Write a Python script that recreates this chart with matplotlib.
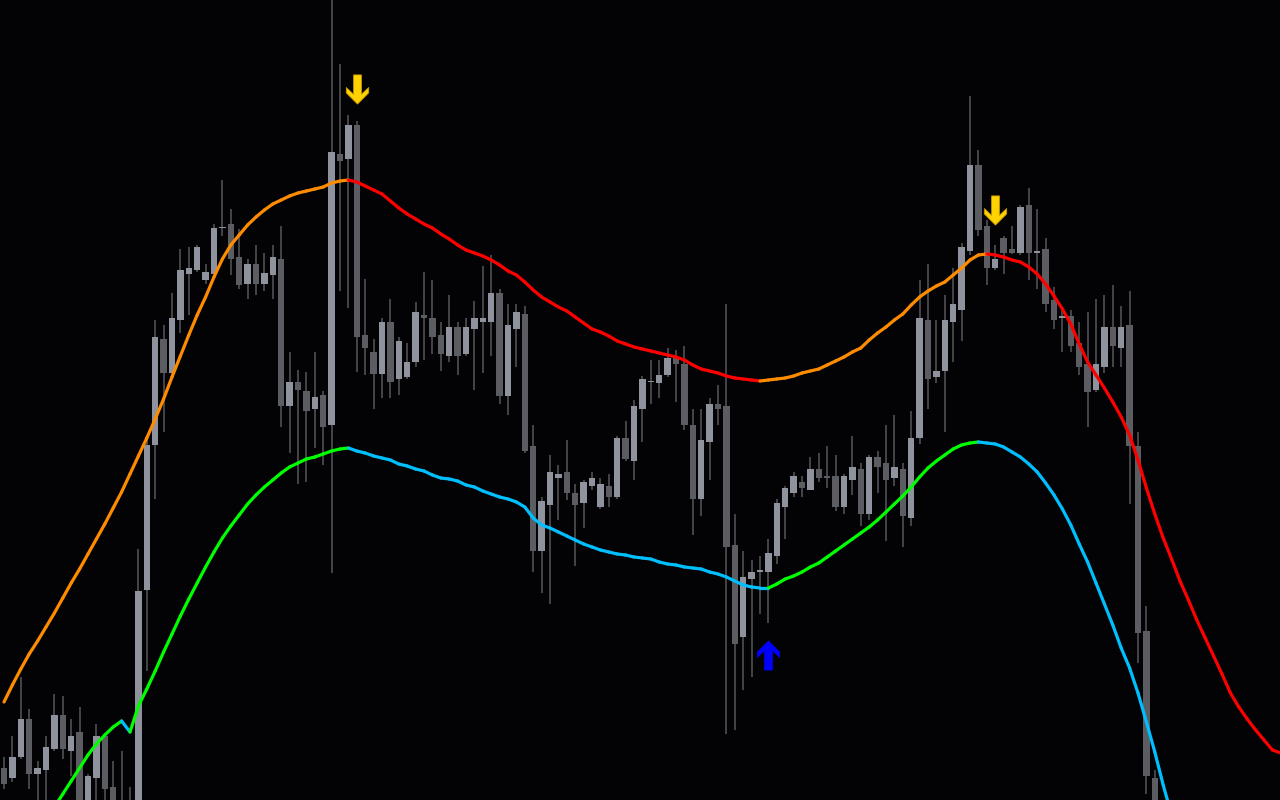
import numpy as np
import matplotlib.pyplot as plt
from matplotlib.collections import LineCollection
from matplotlib.path import Path

# OHLC candles (bar index = position from the left)
opens = [32, 22, 43, 81, 26, 30, 51, 85, 49, 68, -8, 22, 64, 13, -2, -5, -26, 210, 355, 461,
         427, 480, 526, 530, 520, 526, 572, 576, 543, 516, 536, 516, 525, 541, 394, 418, 409, 391, 405, 375,
         646, 641, 675, 465, 448, 426, 478, 421, 423, 438, 485, 482, 465, 444, 473, 446, 471, 478, 478, 507,
         404, 471, 486, 354, 249, 295, 322, 328, 307, 297, 314, 293, 314, 303, 362, 339, 391, 418, 417, 425,
         442, 436, 375, 301, 358, 396, 394, 255, 163, 221, 228, 228, 244, 293, 307, 318, 310, 331, 324, 324,
         293, 320, 331, 286, 343, 337, 322, 331, 282, 362, 480, 423, 429, 478, 490, 549, 635, 574, 532, 562,
         551, 547, 595, 547, 551, 500, 482, 484, 457, 436, 410, 433, 473, 452, 475, 354, 169, 22]
highs = [43, 64, 123, 91, 39, 64, 106, 104, 81, 93, 26, 76, 66, 39, 49, 13, 251, 364, 480, 475,
         507, 551, 553, 555, 536, 576, 620, 591, 571, 541, 555, 547, 555, 574, 448, 430, 428, 448, 409, 805,
         736, 685, 679, 521, 461, 482, 501, 463, 457, 498, 528, 520, 478, 505, 478, 482, 499, 534, 545, 511,
         496, 496, 494, 375, 303, 345, 335, 360, 316, 320, 328, 322, 326, 364, 379, 400, 424, 440, 440, 452,
         450, 454, 391, 391, 402, 415, 496, 286, 249, 240, 244, 261, 301, 314, 328, 324, 343, 347, 354, 345,
         326, 364, 337, 345, 349, 375, 385, 337, 389, 520, 536, 480, 505, 532, 557, 704, 650, 580, 555, 564,
         574, 595, 612, 591, 562, 513, 490, 490, 478, 488, 501, 505, 515, 494, 509, 368, 194, 30]
lows = [11, 18, 41, 11, -5, -5, 49, 41, 24, -12, -15, -5, -5, -12, -20, -30, -34, 129, 301, 368,
        425, 467, 485, 528, 516, 524, 564, 525, 511, 501, 505, 509, 501, 373, 347, 316, 318, 352, 335, 227,
        509, 492, 428, 425, 391, 402, 402, 405, 421, 433, 440, 446, 429, 438, 425, 444, 410, 427, 444, 396,
        385, 433, 347, 228, 207, 196, 280, 300, 234, 272, 310, 291, 293, 301, 339, 320, 358, 396, 402, 423,
        398, 370, 265, 284, 320, 375, 66, 70, 110, 123, 186, 177, 236, 261, 303, 303, 310, 318, 312, 289,
        286, 305, 274, 280, 307, 259, 314, 253, 274, 356, 391, 417, 368, 438, 459, 545, 564, 515, 530, 526,
        546, 545, 520, 511, 488, 471, 448, 448, 425, 373, 408, 427, 433, 433, 296, 137, 6, -40]
closes = [16, 43, 81, 26, 32, 53, 85, 51, 64, -5, 24, 64, 11, -5, -15, -25, 209, 355, 463, 427,
          482, 530, 532, 553, 528, 572, 573, 541, 515, 536, 516, 527, 543, 394, 418, 410, 389, 403, 373, 648,
          639, 675, 463, 452, 426, 478, 418, 459, 438, 488, 482, 463, 446, 473, 444, 473, 482, 482, 507, 404,
          475, 488, 349, 249, 299, 328, 326, 307, 295, 318, 322, 316, 303, 362, 341, 394, 421, 419, 425, 442,
          436, 375, 301, 360, 396, 391, 253, 156, 223, 228, 230, 247, 297, 312, 324, 312, 331, 322, 322, 293,
          324, 333, 286, 343, 333, 320, 333, 284, 362, 482, 421, 429, 480, 496, 553, 635, 570, 532, 541, 547,
          547, 593, 547, 549, 496, 480, 484, 454, 433, 408, 436, 473, 454, 473, 354, 167, 24, -30]

# channel bands, one value per bar (they run past the last candle)
upper_band = [98, 115, 131, 146, 159, 173, 187, 202, 217, 231, 246, 261, 276, 292, 308, 326, 344, 362, 381, 401,
              423, 444, 465, 485, 503, 523, 541, 555, 565, 575, 583, 590, 596, 600, 604, 607, 609, 611, 613, 617,
              619, 620, 618, 614, 610, 606, 599, 592, 586, 581, 576, 572, 566, 561, 555, 550, 547, 544, 540, 535,
              529, 525, 518, 510, 503, 498, 493, 489, 483, 477, 471, 468, 464, 459, 456, 453, 451, 449, 447, 445,
              443, 440, 435, 431, 429, 427, 424, 422, 421, 420, 419, 420, 421, 422, 424, 427, 429, 431, 435, 439,
              443, 448, 452, 460, 467, 473, 480, 486, 495, 503, 509, 514, 518, 525, 532, 540, 545, 546, 545, 543,
              540, 538, 533, 526, 516, 504, 491, 476, 456, 438, 425, 412, 398, 383, 365, 340, 312, 286, 262, 241,
              219, 200, 180, 162, 144, 126, 107, 93, 81, 70, 60, 50, 47]
lower_band = [-85, -72, -59, -46, -33, -20, -7, 6, 19, 32, 45, 56, 65, 73, 79, 68, 94, 111, 129, 148,
              166, 184, 201, 217, 233, 248, 262, 274, 285, 296, 305, 313, 320, 327, 333, 337, 341, 343, 346, 349,
              351, 352, 349, 347, 344, 342, 340, 336, 334, 331, 329, 325, 322, 321, 319, 315, 313, 309, 306, 303,
              301, 298, 293, 282, 275, 272, 268, 264, 260, 256, 253, 250, 248, 246, 245, 243, 242, 241, 238, 236,
              235, 233, 232, 231, 228, 226, 223, 219, 215, 213, 212, 212, 216, 221, 224, 228, 233, 237, 243, 249,
              255, 261, 267, 273, 280, 288, 296, 304, 313, 323, 332, 339, 345, 351, 355, 357, 358, 357, 356, 353,
              348, 343, 336, 328, 317, 305, 291, 275, 256, 238, 217, 196, 175, 152, 132, 107, 78, 48, 15, -15,
              -45, -72, -97, -120, -142, -162, -182, -198, -212, -224, -234, -243, -246]

# signal arrows
sell_bars = [42, 118]
sell_levels = [711, 590]
buy_bars = [91]
buy_levels = [145]

BG = '#030305'
BULL = '#8f939e'
BEAR = '#5c5d62'
WICK = '#4a4a4f'

fig = plt.figure(figsize=(12.8, 8), dpi=100, facecolor=BG)
ax = fig.add_axes([0, 0, 1, 1])
ax.set_facecolor(BG)

x = np.arange(len(opens))
o = np.array(opens, float)
c = np.array(closes, float)

ax.vlines(x, lows, highs, color=WICK, lw=1.3, zorder=1)
body = np.where(np.abs(c - o) < 1.5, 1.5, c - o)
cols = [BULL if cc >= oo else BEAR for oo, cc in zip(o, c)]
ax.bar(x, body, bottom=o, width=0.76, color=cols, linewidth=0, zorder=2)


def band(vals, up_col, down_col):
    xs = np.arange(len(vals))
    pts = np.column_stack([xs, vals])
    segs = np.stack([pts[:-1], pts[1:]], axis=1)
    colors = []
    state = up_col
    for a, b in zip(vals[:-1], vals[1:]):
        if b > a:
            state = up_col
        elif b < a:
            state = down_col
        colors.append(state)
    lc = LineCollection(segs, colors=colors, linewidths=2.3, capstyle='round', joinstyle='round', zorder=3)
    ax.add_collection(lc)


band(upper_band, '#ff8c00', '#ff0000')
band(lower_band, '#00ff00', '#00bfff')

# arrow glyph (pointing up), flipped for sell signals
up_verts = [(0, 15), (11.5, 3.5), (11.5, -2), (4, 5), (4, -15), (-4, -15), (-4, 5), (-11.5, -2), (-11.5, 3.5), (0, 15)]
up_arrow = Path(up_verts, closed=True)
down_arrow = Path([(vx, -vy) for vx, vy in up_verts], closed=True)

ax.plot(sell_bars, sell_levels, linestyle='none', marker=down_arrow, markersize=21,
        markerfacecolor='#ffd200', markeredgecolor='#c89a00', markeredgewidth=0.6, zorder=4)
ax.plot(buy_bars, buy_levels, linestyle='none', marker=up_arrow, markersize=21,
        markerfacecolor='#0000ff', markeredgecolor='#0000ff', markeredgewidth=0.5, zorder=4)

ax.set_xlim(-4 / 8.4, 1276 / 8.4)
ax.set_ylim(0, 800)
ax.axis('off')

plt.savefig('out.png', dpi=100, facecolor=BG)
